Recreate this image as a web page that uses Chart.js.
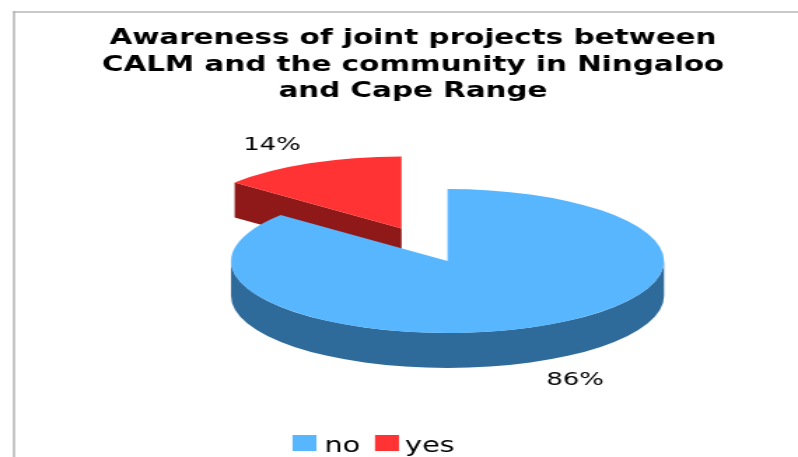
<!DOCTYPE html>
<html>
<head>
<meta charset="utf-8">
<style>
  html, body { margin: 0; padding: 0; background: #fff; overflow: hidden; width: 798px; height: 457px; }
  #stage { width: 570px; height: 457px; transform: scale(1.4, 1); transform-origin: 0 0; }
</style>
<script src="https://cdn.jsdelivr.net/npm/chart.js@4"></script>
</head>
<body>
<div id="stage"><canvas id="pie" width="570" height="457"></canvas></div>
<script>
const categories = ['no', 'yes'];
const shares = [86, 14];
const titleLines = [
  'Awareness of joint projects between',
  'CALM and the community in Ningaloo',
  'and Cape Range'
];
const topColors = ['#58b6ff', '#ff3333'];
const wallColors = ['#2e6b9a', '#8f1919'];

// The drawing is widened by this factor, so page pixels are divided by it here.
const STRETCH = 1.4;
const px = v => v / STRETCH;

const RADIUS = px(216.5);
const TILT = 72 / RADIUS;          // vertical squash of the pie disc
const DEPTH = 35;                  // height of the pie wall
const CENTER = { x: px(447.5), y: 261 };
const EXPLODE = [0, px(108)];      // how far each slice is pulled out of the pie
const LABEL_AT = [{ x: px(575), y: 380 }, { x: px(272), y: 145 }];
const LEGEND_BOXES = [px(292.5), px(375)];
const LEGEND_TEXTS = [px(324.5), px(405)];

const pie3d = {
  id: 'pie3d',
  beforeDraw(chart) {
    const { ctx, width, height } = chart;
    ctx.save();
    ctx.fillStyle = '#ffffff';
    ctx.fillRect(0, 0, width, height);
    ctx.fillStyle = '#c9c9c9';
    ctx.fillRect(px(13), 11, width, 2);
    ctx.fillStyle = '#b0b0b0';
    ctx.fillRect(px(13), 11, px(2), height);
    ctx.restore();
  },
  beforeDatasetDraw(chart, args) {
    const { ctx } = chart;
    const arcs = args.meta.data;
    // back slice first, the large slice covers it
    [1, 0].forEach(i => {
      const arc = arcs[i];
      const mid = (arc.startAngle + arc.endAngle) / 2;
      const cx = CENTER.x + Math.cos(mid) * EXPLODE[i];
      const cy = CENTER.y + Math.sin(mid) * EXPLODE[i] * TILT;
      const ry = RADIUS * TILT;

      ctx.save();
      ctx.fillStyle = wallColors[i];
      // Outer wall: only the part of the rim facing the viewer.
      const from = Math.max(arc.startAngle, 0);
      const to = Math.min(arc.endAngle, Math.PI);
      if (to > from) {
        ctx.beginPath();
        ctx.ellipse(cx, cy, RADIUS, ry, 0, from, to);
        ctx.ellipse(cx, cy + DEPTH, RADIUS, ry, 0, to, from, true);
        ctx.closePath();
        ctx.fill();
      }
      // Cut wall: the exploded slice shows its open radial face.
      if (EXPLODE[i] > 0) {
        const ex = cx + Math.cos(arc.startAngle) * RADIUS;
        const ey = cy + Math.sin(arc.startAngle) * ry;
        ctx.beginPath();
        ctx.moveTo(cx, cy);
        ctx.lineTo(ex, ey);
        ctx.lineTo(ex, ey + DEPTH);
        ctx.lineTo(cx, cy + DEPTH);
        ctx.closePath();
        ctx.fill();
      }
      ctx.restore();

      // Top face: the library's arc element under a squashing transform.
      ctx.save();
      ctx.translate(cx, cy);
      ctx.scale(1, TILT);
      ctx.translate(-arc.x, -arc.y);
      arc.draw(ctx);
      ctx.restore();
    });
    return false;
  },
  afterDatasetsDraw(chart) {
    const { ctx } = chart;
    ctx.save();
    ctx.fillStyle = '#000000';
    ctx.font = '18.5px "DejaVu Sans"';
    ctx.textAlign = 'center';
    ctx.textBaseline = 'middle';
    shares.forEach((v, i) => ctx.fillText(v + '%', LABEL_AT[i].x, LABEL_AT[i].y));

    // Legend row: colour key followed by its category name.
    ctx.font = '20.5px "DejaVu Sans"';
    ctx.textAlign = 'left';
    ctx.textBaseline = 'alphabetic';
    categories.forEach((name, i) => {
      ctx.fillStyle = topColors[i];
      ctx.fillRect(LEGEND_BOXES[i], 435, px(24), 16);
      ctx.fillStyle = '#000000';
      ctx.fillText(name, LEGEND_TEXTS[i], 452);
    });
    ctx.restore();
  }
};

new Chart(document.getElementById('pie'), {
  type: 'pie',
  data: {
    labels: categories,
    datasets: [{
      data: shares,
      backgroundColor: topColors,
      borderWidth: 0
    }]
  },
  options: {
    responsive: false,
    animation: false,
    radius: RADIUS,
    layout: { padding: { left: px(28) } },
    plugins: {
      tooltip: { enabled: false },
      legend: { display: false },
      title: {
        display: true,
        text: titleLines,
        color: '#000000',
        font: { family: '"DejaVu Sans"', size: 21, weight: 'bold', lineHeight: 1.24 },
        padding: { top: 26, bottom: 10 }
      }
    }
  },
  plugins: [pie3d]
});
</script>
</body>
</html>
